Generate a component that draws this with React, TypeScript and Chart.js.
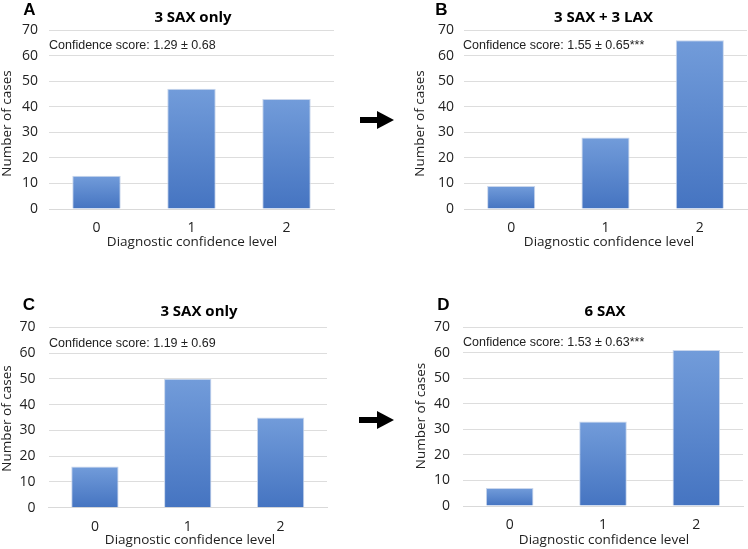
import React, { useEffect, useRef } from "react";
import { Chart, registerables } from "chart.js";

Chart.register(...registerables);

const categories = ["0", "1", "2"];
const valuesA = [13, 47, 43];
const valuesB = [9, 28, 66];
const valuesC = [16, 50, 35];
const valuesD = [7, 33, 61];
const titles = ["3 SAX only", "3 SAX + 3 LAX", "3 SAX only", "6 SAX"];
const letters = ["A", "B", "C", "D"];
const scores = [
  "Confidence score: 1.29 ± 0.68",
  "Confidence score: 1.55 ± 0.65***",
  "Confidence score: 1.19 ± 0.69",
  "Confidence score: 1.53 ± 0.63***",
];
const yTitle = "Number of cases";
const xTitle = "Diagnostic confidence level";
const yMax = 70;
const yStep = 10;

type PanelProps = {
  left: number;
  top: number;
  width: number;
  height: number;
  cl: number;
  cr: number;
  ct: number;
  cb: number;
  tickPad: number;
  values: number[];
  title: string;
  letter: string;
  score: string;
  letterPos: [number, number];
  titlePos: [number, number];
  scorePos: [number, number];
  yTitlePos: [number, number];
  xTitlePos: [number, number];
};

function Panel(p: PanelProps) {
  const ref = useRef<HTMLCanvasElement | null>(null);
  useEffect(() => {
    if (!ref.current) return;
    const textPlugin = {
      id: "panelText",
      afterDraw(chart: any) {
        const c = chart.ctx as CanvasRenderingContext2D;
        c.save();
        c.fillStyle = "#000";
        c.textBaseline = "middle";
        c.textAlign = "center";
        c.font = "bold 17px 'Liberation Sans', Arial, sans-serif";
        c.fillText(p.letter, p.letterPos[0], p.letterPos[1]);
        c.font = "bold 15px 'Open Sans', sans-serif";
        c.fillText(p.title, p.titlePos[0], p.titlePos[1]);
        c.textAlign = "left";
        c.fillStyle = "#222";
        c.font = "12.5px 'Liberation Sans', Arial, sans-serif";
        c.fillText(p.score, p.scorePos[0], p.scorePos[1]);
        c.fillStyle = "#222";
        c.textAlign = "center";
        c.font = "13.5px 'Open Sans', sans-serif";
        c.fillText(xTitle, p.xTitlePos[0], p.xTitlePos[1]);
        c.translate(p.yTitlePos[0], p.yTitlePos[1]);
        c.rotate(-Math.PI / 2);
        c.fillText(yTitle, 0, 0);
        c.restore();
      },
    };
    const chart = new Chart(ref.current, {
      type: "bar",
      data: {
        labels: categories,
        datasets: [
          {
            data: p.values,
            backgroundColor: (ctx: any) => {
              const ch = ctx.chart;
              if (!ch.chartArea) return "#5E8BD0";
              const y0 = ch.scales.y.getPixelForValue(ctx.raw);
              const y1 = ch.scales.y.getPixelForValue(0);
              const g = ch.ctx.createLinearGradient(0, y0, 0, y1);
              g.addColorStop(0, "#729CDA");
              g.addColorStop(1, "#4574C1");
              return g;
            },
            borderColor: "#C9D6EC",
            borderWidth: 1,
            categoryPercentage: 1,
            barPercentage: 0.51,
          },
        ],
      },
      options: {
        animation: false,
        responsive: false,
        maintainAspectRatio: false,
        layout: {
          padding: { left: 0, top: p.ct, right: p.width - p.cr, bottom: 0 },
        },
        plugins: {
          legend: { display: false },
          title: { display: false },
          tooltip: { enabled: false },
        },
        scales: {
          x: {
            grid: { display: false, drawTicks: false },
            border: { display: true, color: "#D9D9D9" },
            ticks: {
              padding: 11,
              color: "#222",
              font: { family: "'Open Sans', sans-serif", size: 14 },
            },
            afterFit: (s: any) => {
              s.height = p.height - p.cb;
            },
          },
          y: {
            min: 0,
            max: yMax,
            ticks: {
              stepSize: yStep,
              padding: p.tickPad,
              color: "#222",
              font: { family: "'Open Sans', sans-serif", size: 14 },
            },
            grid: { color: "#DDDDDD", drawTicks: false },
            border: { display: false },
            afterFit: (s: any) => {
              s.width = p.cl;
            },
          },
        },
      },
      plugins: [textPlugin],
    } as any);
    return () => chart.destroy();
  }, []);
  return (
    <canvas
      ref={ref}
      width={p.width}
      height={p.height}
      style={{
        position: "absolute",
        left: p.left,
        top: p.top,
        width: p.width,
        height: p.height,
      }}
    />
  );
}

export default function App() {
  return (
    <div
      style={{
        position: "absolute",
        left: 0,
        top: 0,
        width: 748,
        height: 549,
        background: "#fff",
        overflow: "hidden",
      }}
    >
      <Panel
        left={0}
        top={0}
        width={340}
        height={260}
        cl={49}
        cr={334}
        ct={30}
        cb={209}
        tickPad={11}
        values={valuesA}
        title={titles[0]}
        letter={letters[0]}
        score={scores[0]}
        letterPos={[29.5, 10]}
        titlePos={[193, 17.5]}
        scorePos={[49, 46]}
        yTitlePos={[7.5, 123.5]}
        xTitlePos={[192, 242]}
      />
      <Panel
        left={380}
        top={0}
        width={368}
        height={260}
        cl={84}
        cr={367}
        ct={30}
        cb={209}
        tickPad={10}
        values={valuesB}
        title={titles[1]}
        letter={letters[1]}
        score={scores[1]}
        letterPos={[61.5, 10]}
        titlePos={[223.5, 17.5]}
        scorePos={[83, 46]}
        yTitlePos={[40, 123.5]}
        xTitlePos={[229, 242]}
      />
      <Panel
        left={0}
        top={280}
        width={340}
        height={269}
        cl={48.5}
        cr={327}
        ct={47.3}
        cb={227.7}
        tickPad={13}
        values={valuesC}
        title={titles[2]}
        letter={letters[2]}
        score={scores[2]}
        letterPos={[29, 25]}
        titlePos={[199, 32]}
        scorePos={[49, 64]}
        yTitlePos={[7.5, 138.5]}
        xTitlePos={[190, 260]}
      />
      <Panel
        left={380}
        top={280}
        width={368}
        height={269}
        cl={83}
        cr={363}
        ct={47}
        cb={226}
        tickPad={13}
        values={valuesD}
        title={titles[3]}
        letter={letters[3]}
        score={scores[3]}
        letterPos={[63.5, 25]}
        titlePos={[225, 32]}
        scorePos={[83, 63]}
        yTitlePos={[40.7, 136]}
        xTitlePos={[224, 260]}
      />
      <svg
        width={748}
        height={549}
        style={{ position: "absolute", left: 0, top: 0, pointerEvents: "none" }}
      >
        <rect x={360} y={117} width={19} height={6} fill="#000" />
        <polygon points="377,111 394,120 377,129" fill="#000" />
        <rect x={359} y={417} width={20} height={6} fill="#000" />
        <polygon points="377,411 394,420 377,429" fill="#000" />
      </svg>
    </div>
  );
}
